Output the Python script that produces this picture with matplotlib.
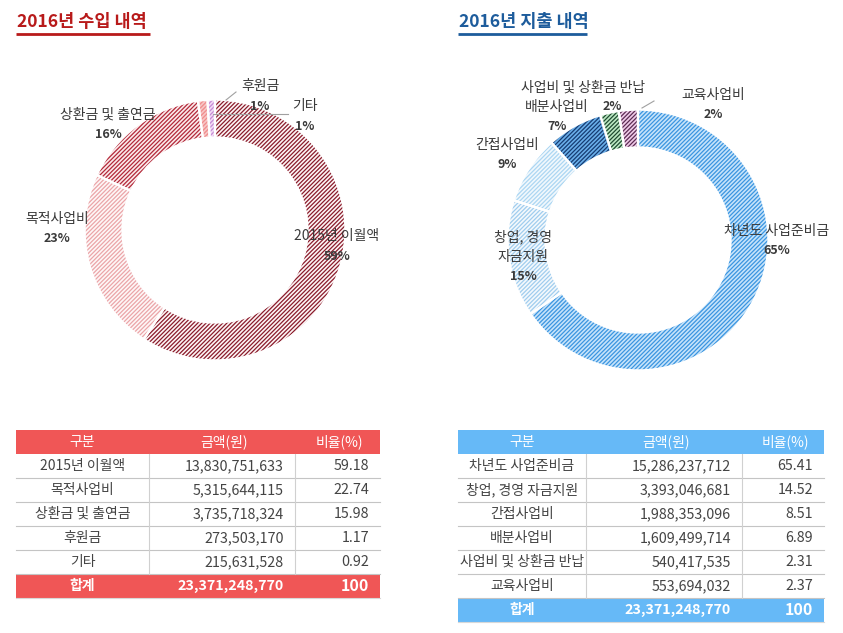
import matplotlib
matplotlib.use("Agg")
import matplotlib.pyplot as plt

plt.rcParams['font.family'] = ['Noto Sans CJK KR', 'DejaVu Sans']
plt.rcParams['hatch.linewidth'] = 0.9

# ---------------- data ----------------
income_title = "2016년 수입 내역"
expense_title = "2016년 지출 내역"

income_cats = ["2015년 이월액", "목적사업비", "상환금 및 출연금", "후원금", "기타"]
income_amounts = ["13,830,751,633", "5,315,644,115", "3,735,718,324", "273,503,170", "215,631,528"]
income_ratio = [59.18, 22.74, 15.98, 1.17, 0.92]
income_pct_labels = ["59%", "23%", "16%", "1%", "1%"]
income_total = "23,371,248,770"

expense_cats = ["차년도 사업준비금", "창업, 경영 자금지원", "간접사업비", "배분사업비",
                "사업비 및 상환금 반납", "교육사업비"]
expense_amounts = ["15,286,237,712", "3,393,046,681", "1,988,353,096", "1,609,499,714",
                   "540,417,535", "553,694,032"]
expense_ratio = [65.41, 14.52, 8.51, 6.89, 2.31, 2.37]
expense_pct_labels = ["65%", "15%", "9%", "7%", "2%", "2%"]
expense_total = "23,371,248,770"

headers = ["구분", "금액(원)", "비율(%)"]
total_label = "합계"
total_ratio = "100"

# ---------------- styles ----------------
income_face = ['#fdf4f5', '#fef7f7', '#fbeaeb', '#f7c6c6', '#f2dcf5']
income_hatch = ['#8a1b2b', '#eba5a8', '#b3293a', '#f08c8c', '#c58ad6']
expense_face = ['#c6e3fa', '#f4f9fd', '#f1f8fd', '#6aafea', '#bce9c3', '#f0cbe9']
expense_hatch = ['#3a95e0', '#a0cdee', '#acd6f2', '#163c72', '#1f4b31', '#5c2c53']

W, H = 843, 633
fig = plt.figure(figsize=(W / 100, H / 100), dpi=100)
fig.patch.set_facecolor('white')


def donut(cx, cy, r, vals, faces, hatches):
    ax = fig.add_axes([(cx - r) / W, 1 - (cy + r) / H, 2 * r / W, 2 * r / H])
    wedges, _ = ax.pie(vals, startangle=90, counterclock=False, radius=1,
                       wedgeprops=dict(width=0.29, linewidth=0))
    for w, fc, hc in zip(wedges, faces, hatches):
        w.set_facecolor(fc)
        w.set_edgecolor(hc)
        w.set_hatch('////////')
        w.set_linewidth(0)
    ax.pie(vals, startangle=90, counterclock=False, radius=1,
           wedgeprops=dict(width=0.29, facecolor='none',
                           edgecolor='white', linewidth=1.6))
    ax.set_xlim(-1.02, 1.02)
    ax.set_ylim(-1.02, 1.02)
    ax.set_aspect('equal')
    ax.axis('off')
    return ax


donut(215, 230, 133, income_ratio, income_face, income_hatch)
donut(638, 240, 133, expense_ratio, expense_face, expense_hatch)

ov = fig.add_axes([0, 0, 1, 1])
ov.set_xlim(0, W)
ov.set_ylim(H, 0)
ov.axis('off')
ov.patch.set_alpha(0)

# titles
ov.text(17, 22, income_title, fontsize=12.6, fontweight='bold', color='#b81a1a',
        ha='left', va='center')
ov.plot([16, 150], [34, 34], color='#b81a1a', lw=2, solid_capstyle='butt')
ov.text(459, 22, expense_title, fontsize=12.6, fontweight='bold', color='#1d5c9c',
        ha='left', va='center')
ov.plot([458, 587], [34, 34], color='#1d5c9c', lw=2, solid_capstyle='butt')

lab_c = '#3a3a3a'


def label(x, y, name_lines, pct):
    yy = y
    for ln in name_lines:
        ov.text(x, yy, ln, fontsize=10, color=lab_c, ha='center', va='center')
        yy += 20
    ov.text(x, yy, pct, fontsize=9, color=lab_c, ha='center', va='center',
            fontweight='bold')


# income labels
label(337, 236, [income_cats[0]], income_pct_labels[0])
label(57, 219, [income_cats[1]], income_pct_labels[1])
label(108, 115, [income_cats[2]], income_pct_labels[2])
label(260, 86, [income_cats[3]], income_pct_labels[3])
label(305, 106, [income_cats[4]], income_pct_labels[4])
ov.plot([236, 226], [92, 100], color='#a0a0a0', lw=0.8)
ov.plot([213, 288], [114, 114], color='#a0a0a0', lw=0.8)

# expense labels
label(777, 231, [expense_cats[0]], expense_pct_labels[0])
label(523, 237, ["창업, 경영", "자금지원"], expense_pct_labels[1])
label(507, 145, [expense_cats[2]], expense_pct_labels[2])
label(557, 107, [expense_cats[3]], expense_pct_labels[3])
ov.text(583, 88, expense_cats[4], fontsize=10, color=lab_c, ha='center', va='center')
ov.text(612, 106, expense_pct_labels[4], fontsize=9, color=lab_c, ha='center',
        va='center', fontweight='bold')
label(713, 95, [expense_cats[5]], expense_pct_labels[5])
ov.plot([642, 654], [108, 101], color='#a0a0a0', lw=0.8)


# tables
def table(x0, x1, s1, s2, cats, amounts, ratios, total, head_color):
    y = 430
    rh = 24
    ov.add_patch(plt.Rectangle((x0, y), x1 - x0, rh, facecolor=head_color, lw=0))
    hx = [(x0 + s1) / 2, (s1 + s2) / 2 + 2, (s2 + x1) / 2 + 2]
    for t, xx in zip(headers, hx):
        ov.text(xx, y + rh / 2, t, fontsize=10, color='white', ha='center', va='center')
    y += rh
    ytop = y
    for c, a, r in zip(cats, amounts, ratios):
        ov.text((x0 + s1) / 2, y + rh / 2, c, fontsize=10, color='#444444',
                ha='center', va='center')
        ov.text(s2 - 11, y + rh / 2, a, fontsize=10.3, color='#444444',
                ha='right', va='center')
        ov.text(x1 - 11, y + rh / 2, f"{r:.2f}", fontsize=10.3, color='#444444',
                ha='right', va='center')
        y += rh
        ov.plot([x0, x1], [y, y], color='#c4c4c4', lw=0.8)
    ov.plot([s1, s1], [ytop, y], color='#d0d0d0', lw=0.8)
    ov.plot([s2, s2], [ytop, y], color='#d0d0d0', lw=0.8)
    ov.add_patch(plt.Rectangle((x0, y), x1 - x0, rh, facecolor=head_color, lw=0))
    ov.text((x0 + s1) / 2, y + rh / 2, total_label, fontsize=10, color='white',
            ha='center', va='center', fontweight='bold')
    ov.text(s2 - 11, y + rh / 2, total, fontsize=10.3, color='white',
            ha='right', va='center', fontweight='bold')
    ov.text(x1 - 11, y + rh / 2, total_ratio, fontsize=11.5, color='white',
            ha='right', va='center', fontweight='bold')
    ov.plot([x0, x1], [y + rh, y + rh], color='#d8d8d8', lw=0.8)


table(16, 380, 149, 295, income_cats, income_amounts, income_ratio, income_total, '#f05656')
table(458, 824, 586, 742, expense_cats, expense_amounts, expense_ratio, expense_total, '#66b9f7')

fig.savefig("out.png", dpi=100, facecolor='white')
